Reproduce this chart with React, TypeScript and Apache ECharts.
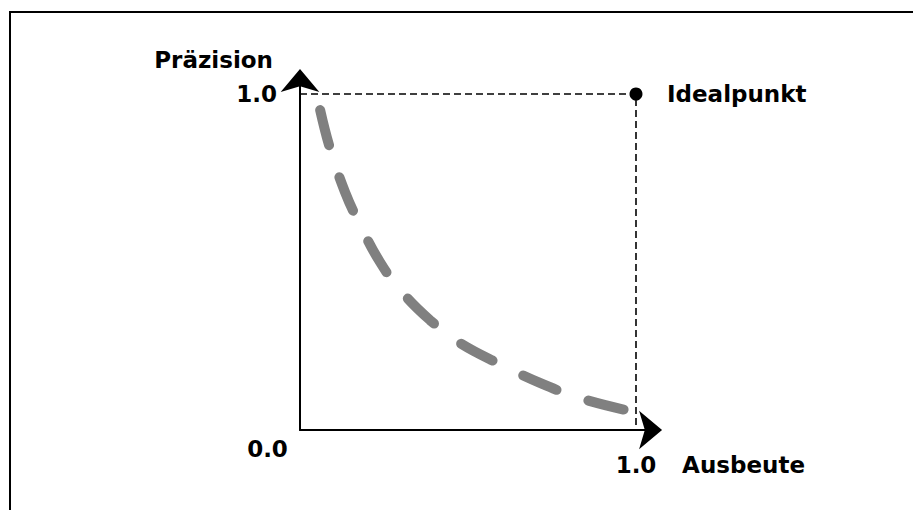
import React, { useEffect, useRef } from 'react';
import * as echarts from 'echarts';

// Curve (recall / precision trade-off)
const recall = [0.06, 0.089, 0.134, 0.179, 0.238, 0.298, 0.387, 0.476, 0.595, 0.714, 0.833, 0.967];
const precision = [0.952, 0.839, 0.708, 0.61, 0.5, 0.417, 0.327, 0.259, 0.196, 0.14, 0.095, 0.06];
// Guide lines to the ideal point
const guideX = [0, 1, 1];
const guideY = [1, 1, 0];
const idealPoint = [1, 1];
const idealLabel = 'Idealpunkt';
// Axis texts
const xTickValues = [0, 1];
const xTickLabels = ['0.0', '1.0'];
const yTickValues = [1];
const yTickLabels = ['1.0'];
const xName = 'Ausbeute';
const yName = 'Präzision';

const FONT = "Verdana, 'DejaVu Sans', sans-serif";
const boldText = { fontFamily: FONT, fontWeight: 'bold' as const, fontSize: 23, color: '#000' };

export default function App() {
  const ref = useRef<HTMLDivElement>(null);
  useEffect(() => {
    if (!ref.current) return;
    const chart = echarts.init(ref.current, undefined, { renderer: 'svg' });
    const axisMax = 1.03;
    const span = 336 * axisMax;
    chart.setOption({
      animation: false,
      backgroundColor: '#fff',
      grid: { left: 300, top: 430 - span, width: span, height: span },
      graphic: [
        {
          type: 'rect',
          silent: true,
          z: -1,
          shape: { x: 10, y: 12, width: 1200, height: 1200 },
          style: { fill: 'none', stroke: '#000', lineWidth: 2 },
        },
      ],
      xAxis: {
        type: 'value',
        min: 0,
        max: axisMax,
        interval: 1,
        axisLine: {
          show: true,
          lineStyle: { color: '#000', width: 2 },
          symbol: ['none', 'arrow'],
          symbolSize: [29, 23],
          symbolOffset: [0, 16],
        },
        axisTick: { show: false },
        splitLine: { show: false },
        axisLabel: {
          margin: 7,
          align: 'center',
          verticalAlign: 'top',
          formatter: (v: number) => {
            const i = xTickValues.indexOf(v);
            if (i < 0) return '';
            return i === 0 ? `{o|${xTickLabels[i]}}` : `{t|${xTickLabels[i]}}`;
          },
          rich: {
            o: { ...boldText, padding: [0, 65, 0, 0] },
            t: { ...boldText, padding: [16, 0, 0, 0] },
          },
        },
        name: xName,
        nameLocation: 'end',
        nameGap: 36,
        nameTextStyle: { ...boldText, align: 'left', verticalAlign: 'top', padding: [23, 0, 0, 0] },
      },
      yAxis: {
        type: 'value',
        min: 0,
        max: axisMax,
        interval: 1,
        axisLine: {
          show: true,
          lineStyle: { color: '#000', width: 2 },
          symbol: ['none', 'arrow'],
          symbolSize: [29, 23],
          symbolOffset: [0, 15],
        },
        axisTick: { show: false },
        splitLine: { show: false },
        axisLabel: {
          margin: 23,
          ...boldText,
          formatter: (v: number) => {
            const i = yTickValues.indexOf(v);
            return i < 0 ? '' : yTickLabels[i];
          },
        },
        name: yName,
        nameLocation: 'end',
        nameGap: 23.5,
        nameTextStyle: { ...boldText, align: 'right', verticalAlign: 'middle', padding: [0, 27, 0, 0] },
      },
      series: [
        {
          type: 'line',
          data: guideX.map((x, i) => [x, guideY[i]]),
          symbol: 'none',
          lineStyle: { color: '#000', width: 1.6, type: [7, 4] },
          z: 2,
        },
        {
          type: 'line',
          data: recall.map((x, i) => [x, precision[i]]),
          symbol: 'none',
          smooth: 0.4,
          lineStyle: { color: '#808080', width: 10, type: [36, 34], cap: 'round' },
          z: 3,
        },
        {
          type: 'scatter',
          data: [idealPoint],
          symbol: 'circle',
          symbolSize: 13,
          itemStyle: { color: '#000', opacity: 1 },
          label: {
            show: true,
            position: 'right',
            distance: 24.5,
            formatter: () => idealLabel,
            ...boldText,
          },
          z: 4,
        },
      ],
    });
    return () => chart.dispose();
  }, []);
  return (
    <div
      ref={ref}
      style={{ position: 'absolute', left: 0, top: 0, width: 913, height: 510, background: '#fff' }}
    />
  );
}
